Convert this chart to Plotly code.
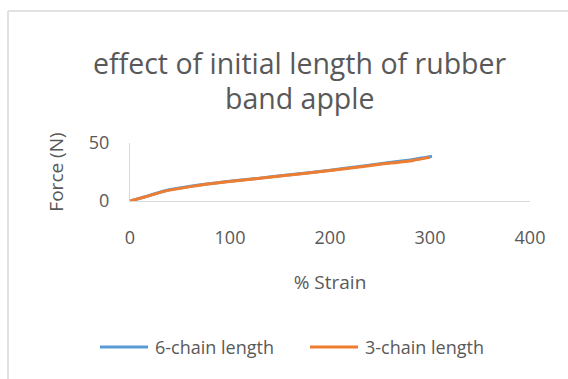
import plotly.graph_objects as go

series_names = ["6-chain length", "3-chain length"]
strain_6 = [0, 15, 35, 62, 95, 128, 155, 183, 217, 250, 283, 302]
force_6 = [0, 3.7, 8.9, 12.9, 16.6, 19.5, 22.2, 24.8, 28.4, 32.2, 35.8, 38.6]
strain_3 = [0, 15, 35, 62, 95, 128, 155, 183, 217, 250, 283, 300]
force_3 = [0, 3.5, 8.5, 12.6, 16.3, 19.3, 22.0, 24.5, 28.0, 31.6, 35.0, 37.6]
x_ticks = [0, 100, 200, 300, 400]
y_ticks = [0, 50]
title_lines = ["effect of initial length of rubber", "band apple"]
colors = ["#5B9BD5", "#ED7D31"]

W, H = 568, 379
ML, MR, MT, MB = 130, 38, 143, 178
FONT = "Open Sans, sans-serif"
GRAY = "#595959"

fig = go.Figure()
fig.add_trace(go.Scatter(x=strain_6, y=force_6, mode="lines", name=series_names[0],
                         line=dict(color=colors[0], width=3, shape="spline", smoothing=0.6)))
fig.add_trace(go.Scatter(x=strain_3, y=force_3, mode="lines", name=series_names[1],
                         line=dict(color=colors[1], width=3, shape="spline", smoothing=0.6)))

pw = W - ML - MR
ph = H - MT - MB
def px(xp):
    return (xp - ML) / pw
def py(yp):
    return (H - MB - yp) / ph

annotations = []
for line_text, yc in zip(title_lines, [63, 98]):
    annotations.append(dict(text=line_text, xref="paper", yref="paper",
                            x=px(300), y=py(yc), xanchor="center", yanchor="middle",
                            showarrow=False, font=dict(size=28.5, color=GRAY, family=FONT)))

shapes = [
    dict(type="line", xref="paper", yref="paper", x0=px(8), x1=px(W + 5), y0=py(11), y1=py(11),
         line=dict(color="#D9D9D9", width=1.5)),
    dict(type="line", xref="paper", yref="paper", x0=px(8), x1=px(8), y0=py(11), y1=py(H + 5),
         line=dict(color="#D9D9D9", width=1.5)),
]

# legend (drawn manually so the line samples match the reference length)
leg_y = 347
for name, col, lx in zip(series_names, colors, [100, 310]):
    shapes.append(dict(type="line", xref="paper", yref="paper",
                       x0=px(lx), x1=px(lx + 48), y0=py(leg_y), y1=py(leg_y),
                       line=dict(color=col, width=3)))
    annotations.append(dict(text=name, xref="paper", yref="paper",
                            x=px(lx + 53), y=py(leg_y), xanchor="left", yanchor="middle",
                            showarrow=False, font=dict(size=18, color=GRAY, family=FONT)))

fig.update_layout(
    width=W, height=H,
    margin=dict(l=ML, r=MR, t=MT, b=MB, pad=0),
    paper_bgcolor="white", plot_bgcolor="white",
    font=dict(family=FONT, color=GRAY),
    annotations=annotations,
    shapes=shapes,
    showlegend=False,
    xaxis=dict(range=[0, 400], tickvals=x_ticks, showgrid=False, zeroline=False,
               showline=True, linecolor="#D9D9D9", linewidth=1,
               ticks="", ticklabelstandoff=20,
               tickfont=dict(size=18, color=GRAY),
               title=dict(text="% Strain", font=dict(size=19, color=GRAY), standoff=28)),
    yaxis=dict(range=[0, 50], tickvals=y_ticks, showgrid=False, zeroline=False,
               showline=True, linecolor="#D9D9D9", linewidth=1,
               ticks="", ticklabelstandoff=16,
               tickfont=dict(size=18, color=GRAY),
               title=dict(text="Force (N)", font=dict(size=19, color=GRAY), standoff=20)),
)

fig.write_html("out.html")
